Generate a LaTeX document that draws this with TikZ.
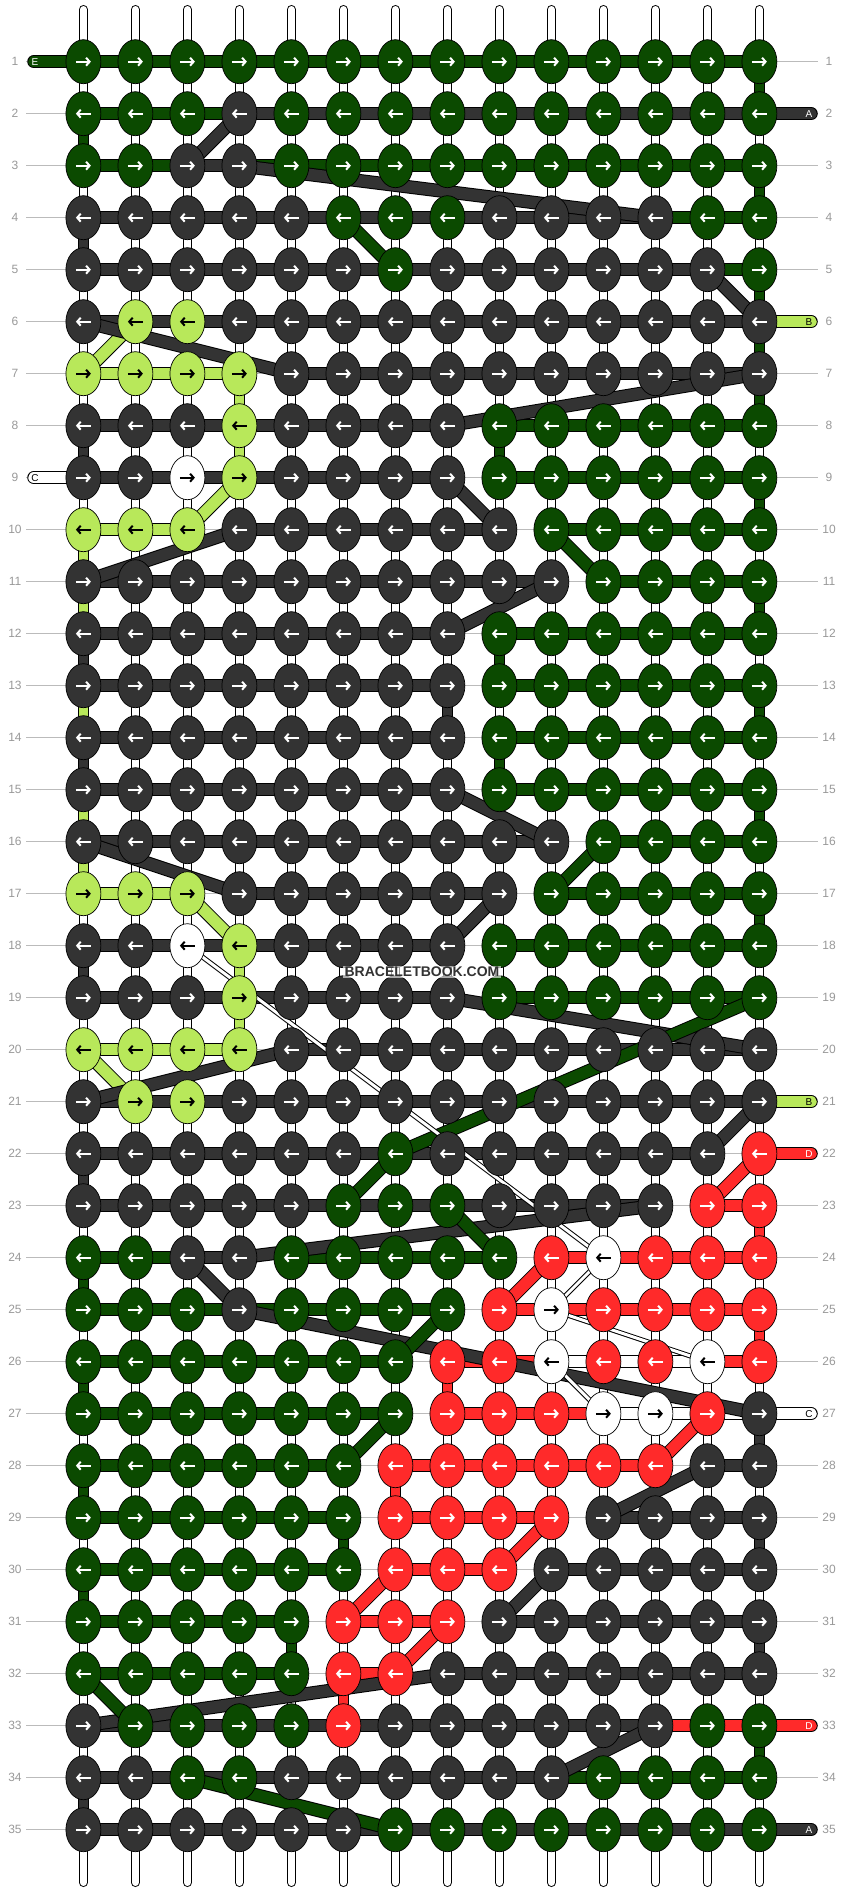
\documentclass[tikz,border=0pt]{standalone}
\usepackage{fontspec}
\setmainfont{Liberation Sans}
\usetikzlibrary{shapes.geometric,arrows.meta}
\definecolor{cG}{HTML}{0B4A00}
\definecolor{cK}{HTML}{333333}
\definecolor{cL}{HTML}{B8E85A}
\definecolor{cR}{HTML}{FF2A2A}
\definecolor{cW}{HTML}{FFFFFF}
\definecolor{guidec}{HTML}{BBBBBB}
\definecolor{lblc}{HTML}{999999}
\colorlet{aG}{white}
\colorlet{aK}{white}
\colorlet{aR}{white}
\colorlet{aL}{black}
\colorlet{aW}{black}
\newcommand\thr[3]{\draw[line width=13.5pt,black] (#1) -- (#2); \draw[line width=11.5pt,c#3] (#1) -- (#2);}
\begin{document}
\begin{tikzpicture}[x=1pt,y=-1pt,
  knot/.style={ellipse,draw=black,line width=0.7pt,minimum width=35pt,minimum height=44pt,inner sep=0pt},
  arr/.style={line width=2pt,-{Straight Barb[length=3.5pt,width=8pt]}},
  lbl/.style={text=lblc,font=\fontsize{12}{12}\selectfont,inner sep=0pt},
  pilltxt/.style={font=\fontsize{10}{10}\selectfont,inner sep=0pt}]
\useasboundingbox (0,0) rectangle (844,1892);
\fill[white] (0,0) rectangle (844,1892);
% grid coordinates
\foreach \r in {1,...,35}{
  \foreach \c in {1,...,14}{
    \coordinate (p-\r-\c) at ({83.4+52*(\c-1)},{61.7+52*(\r-1)});
  }
}
% warp strings
\foreach \c in {1,...,14}{
  \coordinate (wt-\c) at ({83.4+52*(\c-1)},9.5);
  \coordinate (wb-\c) at ({83.4+52*(\c-1)},1882.5);
  \draw[line width=9pt,line cap=round,black] (wt-\c) -- (wb-\c);
  \draw[line width=7pt,line cap=round,white] (wt-\c) -- (wb-\c);
}
% row guides and labels
\foreach \r in {1,...,35}{
  \coordinate (gl-\r) at (26,{61.7+52*(\r-1)});
  \coordinate (gr-\r) at (818,{61.7+52*(\r-1)});
  \draw[guidec,line width=0.8pt] (gl-\r) -- (gr-\r);
  \node[lbl] (ll-\r) at (15,{61.7+52*(\r-1)}) {\r};
  \node[lbl] (lr-\r) at (829,{61.7+52*(\r-1)}) {\r};
}
% end strands (pills)
\foreach \r/\k/\t/\tc in {2/K/A/white,6/L/B/black,21/L/B/black,22/R/D/white,27/W/C/black,33/R/D/white,35/K/A/white}{
  \coordinate (pe-\r) at (811,{61.7+52*(\r-1)});
  \draw[line width=13.5pt,black,line cap=round] (p-\r-14) -- (pe-\r);
  \draw[line width=11.5pt,c\k,line cap=round] (p-\r-14) -- (pe-\r);
  \node[pilltxt,text=\tc] (pt-\r) at (809,{61.7+52*(\r-1)}) {\t};
}
\foreach \r/\k/\t/\tc in {1/G/E/white,9/W/C/black}{
  \coordinate (ps-\r) at (34,{61.7+52*(\r-1)});
  \draw[line width=13.5pt,black,line cap=round] (p-\r-1) -- (ps-\r);
  \draw[line width=11.5pt,c\k,line cap=round] (p-\r-1) -- (ps-\r);
  \node[pilltxt,text=\tc] (pt-\r) at (35,{61.7+52*(\r-1)}) {\t};
}
% horizontal threads
\foreach \r/\a/\b/\k in {1/1/14/G,
 2/1/4/G, 2/4/14/K,
 3/1/3/G, 3/3/4/K, 3/4/14/G,
 4/1/12/K, 4/12/14/G,
 5/1/13/K, 5/13/14/G,
 6/1/14/K,
 7/1/4/L, 7/5/14/K,
 8/1/8/K, 8/9/14/G,
 9/1/8/K, 9/9/14/G,
 10/1/3/L, 10/4/9/K, 10/10/14/G,
 11/1/10/K, 11/11/14/G,
 12/1/8/K, 12/9/14/G,
 13/1/8/K, 13/9/14/G,
 14/1/8/K, 14/9/14/G,
 15/1/8/K, 15/9/14/G,
 16/1/10/K, 16/11/14/G,
 17/1/3/L, 17/4/9/K, 17/10/14/G,
 18/1/8/K, 18/9/14/G,
 19/1/8/K, 19/9/14/G,
 20/1/4/L, 20/5/14/K,
 21/1/14/K,
 22/1/13/K,
 23/1/12/K, 23/13/14/R,
 24/1/3/G, 24/3/4/K, 24/5/9/G, 24/10/14/R,
 25/1/8/G, 25/9/14/R,
 26/1/7/G, 26/8/10/R, 26/13/14/R,
 27/1/7/G, 27/8/11/R,
 28/1/6/G, 28/7/12/R, 28/13/14/K,
 29/1/6/G, 29/7/10/R, 29/11/14/K,
 30/1/6/G, 30/7/9/R, 30/10/14/K,
 31/1/5/G, 31/6/8/R, 31/9/14/K,
 32/1/5/G, 32/6/7/R, 32/8/14/K,
 33/1/12/K, 33/12/14/R,
 34/1/10/K, 34/10/14/G,
 35/1/14/K}{
  \thr{p-\r-\a}{p-\r-\b}{\k}
}
% white horizontal threads
\foreach \r/\a/\b in {26/10/13,27/11/14}{
  \draw[line width=13.5pt,black] (p-\r-\a) -- (p-\r-\b);
  \draw[line width=11.5pt,white] (p-\r-\a) -- (p-\r-\b);
}
% vertical turns
\foreach \c/\r/\k [evaluate=\r as \rn using int(\r+1)] in {1/2/G,1/4/K,1/8/K,1/10/L,1/11/L,1/12/K,1/13/L,1/14/K,1/15/L,1/16/L,1/18/K,1/22/K,1/24/G,1/26/G,1/28/G,1/30/G,1/34/K,
 14/1/G,14/3/G,14/5/G,14/6/G,14/7/G,14/9/G,14/11/G,14/13/G,14/15/G,14/17/G,14/23/R,14/25/R,14/27/K,14/29/K,14/31/K,14/33/G,
 4/7/L,4/8/L,9/8/G,9/12/G,8/13/K,9/14/G,4/18/L,4/19/L,8/26/R,7/28/R,6/29/G,5/31/G,6/32/R}{
  \draw[line width=11pt,black] (p-\r-\c) -- (p-\rn-\c);
  \draw[line width=9pt,c\k] (p-\r-\c) -- (p-\rn-\c);
}
% diagonal threads
\foreach \ra/\ca/\rb/\cb/\k in {2/4/3/3/K, 3/4/4/12/K, 4/6/5/7/G, 5/13/6/14/K, 6/2/7/1/L, 6/1/7/5/K, 7/14/8/8/K, 9/4/10/3/L, 9/8/10/9/K, 10/4/11/1/K, 10/10/11/11/G, 11/10/12/8/K, 15/8/16/10/K, 16/1/17/4/K, 16/11/17/10/G, 17/3/18/4/L, 17/9/18/8/K, 19/8/20/14/K, 19/14/22/7/G, 20/1/21/2/L, 20/5/21/1/K, 21/14/22/13/K, 22/14/23/13/R, 22/7/23/6/G, 23/12/24/4/K, 23/8/24/9/G, 24/3/25/4/K, 24/10/25/9/R, 25/4/27/14/K, 25/8/26/7/G, 27/7/28/6/G, 27/13/28/12/R, 28/13/29/11/K, 29/10/30/9/R, 30/7/31/6/R, 30/10/31/9/K, 31/8/32/7/R, 32/8/33/1/K, 32/1/33/2/G, 33/12/34/10/K, 34/3/35/7/G}{
  \thr{p-\ra-\ca}{p-\rb-\cb}{\k}
}
% thin white threads
\foreach \ra/\ca/\rb/\cb in {18/3/24/11, 24/11/25/10, 25/10/26/13, 26/10/27/11}{
  \draw[line width=5pt,black] (p-\ra-\ca) -- (p-\rb-\cb);
  \draw[line width=3pt,white] (p-\ra-\ca) -- (p-\rb-\cb);
}
% knots
\foreach \r/\row in {
 1/{G,G,G,G,G,G,G,G,G,G,G,G,G,G},
 2/{G,G,G,K,G,G,G,G,G,G,G,G,G,G},
 3/{G,G,K,K,G,G,G,G,G,G,G,G,G,G},
 4/{K,K,K,K,K,G,G,G,K,K,K,K,G,G},
 5/{K,K,K,K,K,K,G,K,K,K,K,K,K,G},
 6/{K,L,L,K,K,K,K,K,K,K,K,K,K,K},
 7/{L,L,L,L,K,K,K,K,K,K,K,K,K,K},
 8/{K,K,K,L,K,K,K,K,G,G,G,G,G,G},
 9/{K,K,W,L,K,K,K,K,G,G,G,G,G,G},
 10/{L,L,L,K,K,K,K,K,K,G,G,G,G,G},
 11/{K,K,K,K,K,K,K,K,K,K,G,G,G,G},
 12/{K,K,K,K,K,K,K,K,G,G,G,G,G,G},
 13/{K,K,K,K,K,K,K,K,G,G,G,G,G,G},
 14/{K,K,K,K,K,K,K,K,G,G,G,G,G,G},
 15/{K,K,K,K,K,K,K,K,G,G,G,G,G,G},
 16/{K,K,K,K,K,K,K,K,K,K,G,G,G,G},
 17/{L,L,L,K,K,K,K,K,K,G,G,G,G,G},
 18/{K,K,W,L,K,K,K,K,G,G,G,G,G,G},
 19/{K,K,K,L,K,K,K,K,G,G,G,G,G,G},
 20/{L,L,L,L,K,K,K,K,K,K,K,K,K,K},
 21/{K,L,L,K,K,K,K,K,K,K,K,K,K,K},
 22/{K,K,K,K,K,K,G,K,K,K,K,K,K,R},
 23/{K,K,K,K,K,G,G,G,K,K,K,K,R,R},
 24/{G,G,K,K,G,G,G,G,G,R,W,R,R,R},
 25/{G,G,G,K,G,G,G,G,R,W,R,R,R,R},
 26/{G,G,G,G,G,G,G,R,R,W,R,R,W,R},
 27/{G,G,G,G,G,G,G,R,R,R,W,W,R,K},
 28/{G,G,G,G,G,G,R,R,R,R,R,R,K,K},
 29/{G,G,G,G,G,G,R,R,R,R,K,K,K,K},
 30/{G,G,G,G,G,G,R,R,R,K,K,K,K,K},
 31/{G,G,G,G,G,R,R,R,K,K,K,K,K,K},
 32/{G,G,G,G,G,R,R,K,K,K,K,K,K,K},
 33/{K,G,G,G,G,R,K,K,K,K,K,K,G,G},
 34/{K,K,G,G,K,K,K,K,K,K,G,G,G,G},
 35/{K,K,K,K,K,K,G,G,G,G,G,G,G,G}}{
  \foreach \k [count=\c] in \row {
    \node[knot,fill=c\k] (k-\r-\c) at (p-\r-\c) {};
    \ifodd\r\relax
      \draw[arr,draw=a\k] (k-\r-\c.center) ++(-7.5,0) -- ++(15,0);
    \else
      \draw[arr,draw=a\k] (k-\r-\c.center) ++(7.5,0) -- ++(-15,0);
    \fi
  }
}
% watermark
\node[font=\bfseries\fontsize{14}{14}\selectfont,text=cK,fill=white,fill opacity=0.6,text opacity=1,inner sep=1.5pt] (wm) at (422,972) {BRACELETBOOK.COM};
\end{tikzpicture}
\end{document}
